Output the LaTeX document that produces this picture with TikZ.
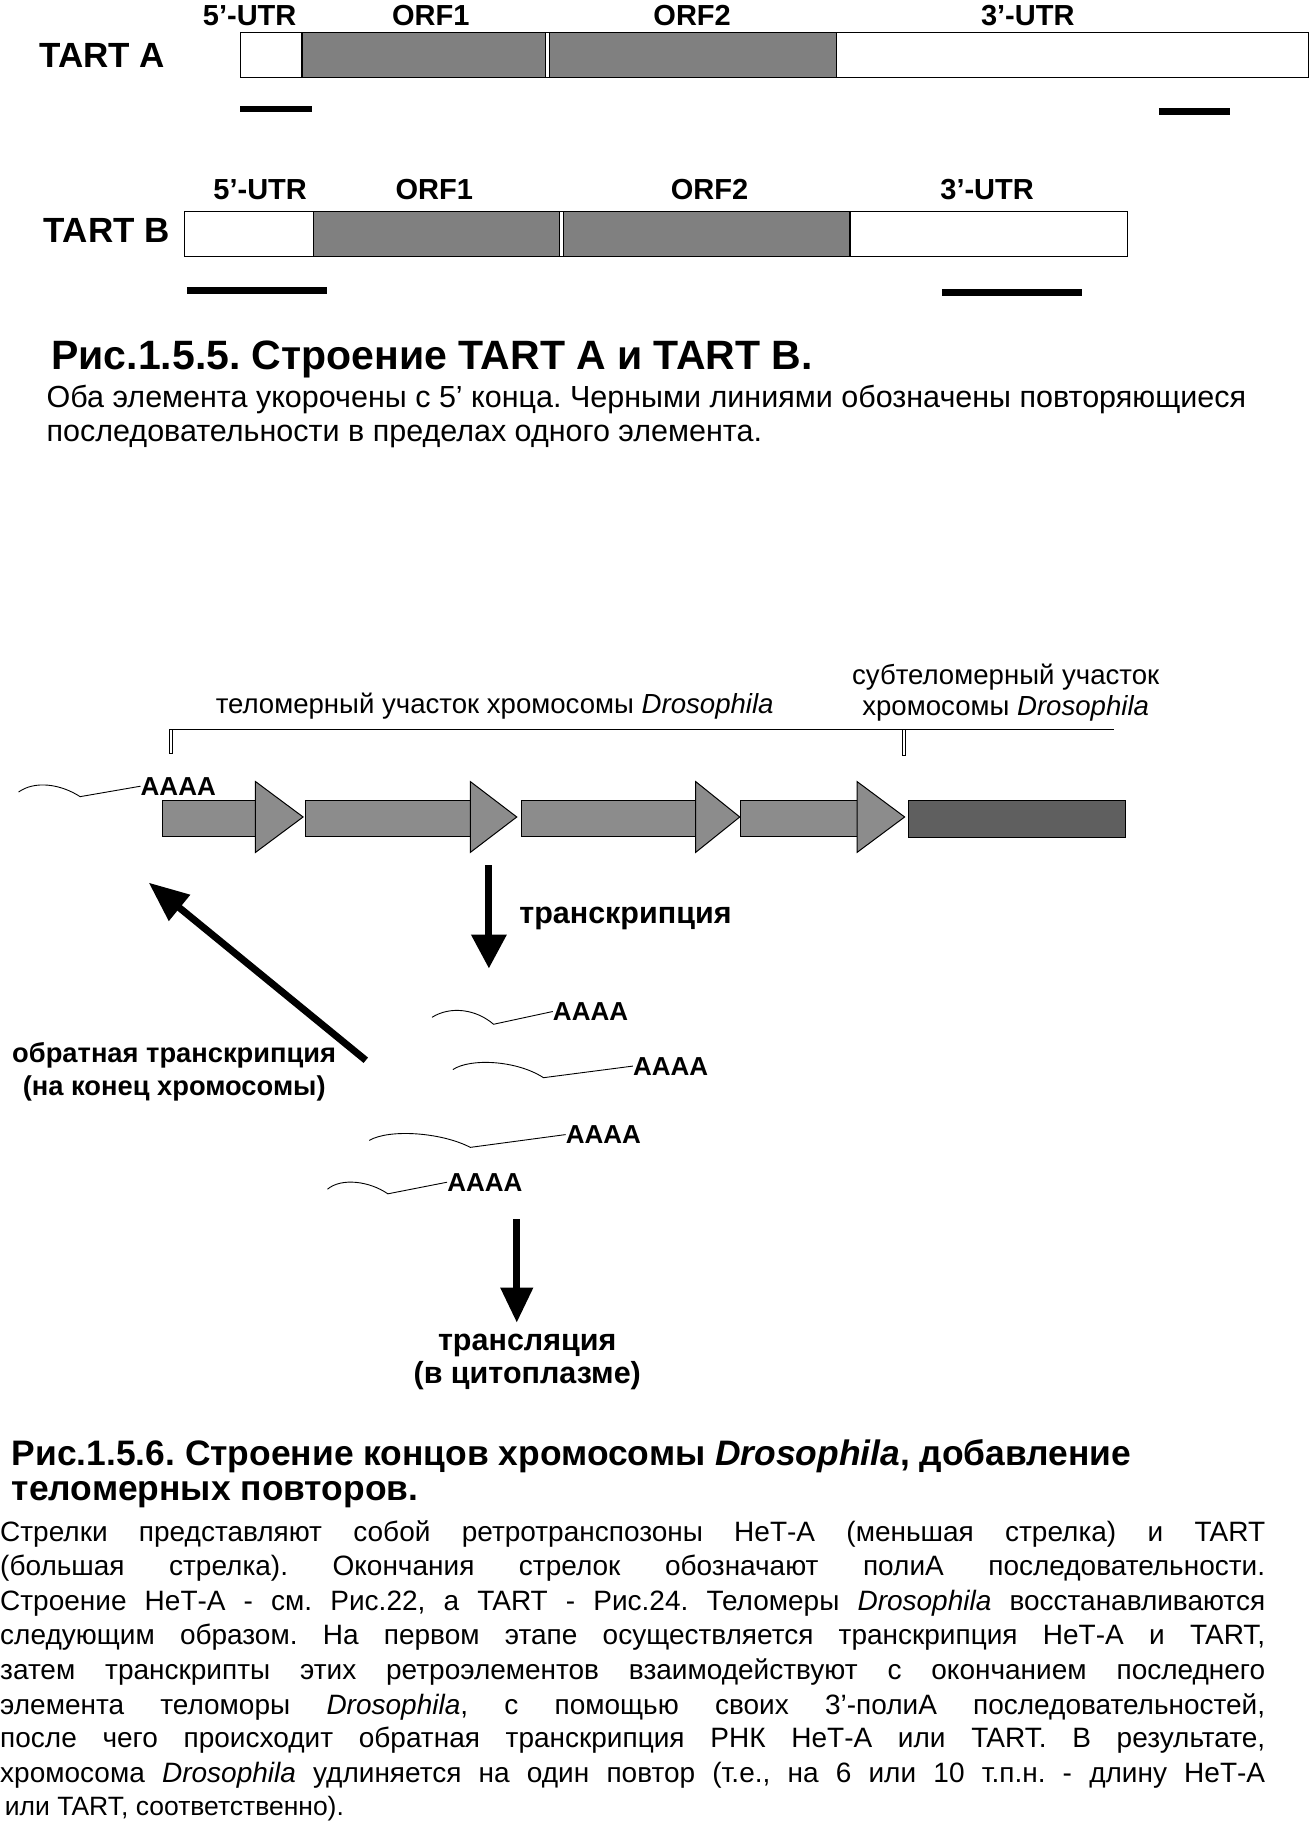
\documentclass[tikz,border=0pt]{standalone}
\usepackage{fontspec}
\setmainfont{Liberation Sans}
\usetikzlibrary{arrows.meta}
\frenchspacing

\definecolor{orfgray}{RGB}{128,128,128}
\definecolor{rptgray}{RGB}{140,140,140}
\definecolor{subgray}{RGB}{95,95,95}

\newcommand{\fsz}[1]{\fontsize{#1}{#1}\selectfont}
\newcommand{\dros}{\textit{Drosophila}}

\tikzset{
  lbl/.style={font=\bfseries\fsz{29}, inner sep=0pt, anchor=base},
  tartname/.style={font=\bfseries\fsz{35}, inner sep=0pt, anchor=base},
  titulo/.style={font=\bfseries\fsz{41}, inner sep=0pt, anchor=base west},
  legenda/.style={font=\fsz{30.5}, inner sep=0pt, anchor=base west},
  regiao/.style={font=\fsz{27.6}, inner sep=0pt, anchor=base},
  passo/.style={font=\bfseries\fsz{30.5}, inner sep=0pt, anchor=base},
  polya/.style={font=\bfseries\fsz{26}, inner sep=0pt, anchor=west},
  texto/.style={font=\fsz{28}, inner sep=0pt, anchor=base west},
  rna/.style={black, line width=0.9pt},
  bigarrow/.style={line width=7pt, -{Triangle[length=34pt, width=34pt]}},
  rpt/.style={fill=rptgray, draw=black, line width=1pt},
}

\begin{document}
\begin{tikzpicture}[x=1.1613pt, y=-1.1613pt]
\useasboundingbox (0,0) rectangle (1128.04,1569.8);

% Elemento TART A
\draw[line width=1.2pt] (207,28) rectangle (1127,67);
\filldraw[fill=orfgray, line width=1.2pt] (260,28) rectangle (470,67);
\filldraw[fill=orfgray, line width=1.2pt] (473,28) rectangle (720,67);
\node[tartname] (tartA) at (88,58) {TART A};
\node[lbl] (utr5A) at (215,22) {5’-UTR};
\node[lbl] (orf1A) at (371,22) {ORF1};
\node[lbl] (orf2A) at (596,22) {ORF2};
\node[lbl] (utr3A) at (885,22) {3’-UTR};

% repeticoes em TART A
\draw[line width=6.5pt] (207,94) -- (269,94);
\draw[line width=6.5pt] (998,96) -- (1059,96);

% Elemento TART B
\draw[line width=1.2pt] (159,182) rectangle (971,221);
\filldraw[fill=orfgray, line width=1.2pt] (270,182) rectangle (482,221);
\filldraw[fill=orfgray, line width=1.2pt] (485,182) rectangle (732,221);
\node[tartname] (tartB) at (92,209) {TART B};
\node[lbl] (utr5B) at (224,172) {5’-UTR};
\node[lbl] (orf1B) at (374,172) {ORF1};
\node[lbl] (orf2B) at (611,172) {ORF2};
\node[lbl] (utr3B) at (850,172) {3’-UTR};

% repeticoes em TART B
\draw[line width=6.5pt] (161,250) -- (282,250);
\draw[line width=6.5pt] (811,252) -- (932,252);

% Legenda da figura 1.5.5
\node[titulo] (tit1) at (44,318) {Рис.1.5.5. Строение TART A и TART B.};
\node[legenda] (leg1) at (40,351) {Оба элемента укорочены с 5’ конца. Черными линиями обозначены повторяющиеся};
\node[legenda] (leg2) at (40,380) {последовательности в пределах одного элемента.};

% Regioes da ponta do cromossomo
\node[regiao] (telo) at (426,614) {теломерный участок хромосомы \dros};
\node[regiao] (subt1) at (866,589) {субтеломерный участок};
\node[regiao] (subt2) at (866,616) {хромосомы \dros};
\draw[line width=1pt] (147,628) -- (959,628);
\draw[line width=0.7pt] (146,628) rectangle (148.5,649);
\draw[line width=0.7pt] (777,628) rectangle (779.5,650);

% Repeticoes HeT-A / TART (setas cinza)
\foreach \a/\b/\c in {140/220/261, 263/405/445, 449/599/637, 638/738/779} {
  \filldraw[rpt] (\a,689) rectangle (\b+2,720);
  \filldraw[rpt] (\b,673) -- (\c,703.5) -- (\b,734) -- cycle;
}

% Regiao subtelomerica
\filldraw[fill=subgray, draw=black, line width=1pt] (782,689) rectangle (969,721);

% Transcrito ligado ao fim do cromossomo
\draw[rna] (16,682) .. controls (30,672) and (52,675) .. (69,686) -- (121,677) coordinate (endT);
\node[polya] (polyT) at (endT) {AAAA};

% Transcricao
\coordinate (trA) at (421,745);
\coordinate (trB) at (421,834);
\draw[bigarrow] (trA) -- (trB);
\node[passo, anchor=base west] (transc) at (447,795) {транскрипция};

% Transcritos de RNA
\draw[rna] (372,876) .. controls (388,866) and (410,869) .. (425,882) -- (476,871) coordinate (end1);
\node[polya] (poly1) at (end1) {AAAA};
\draw[rna] (390,921) .. controls (405,911) and (445,913) .. (468,928) -- (545,918) coordinate (end2);
\node[polya] (poly2) at (end2) {AAAA};
\draw[rna] (318,982) .. controls (335,972) and (380,975) .. (405,988) -- (487,977) coordinate (end3);
\node[polya] (poly3) at (end3) {AAAA};
\draw[rna] (282,1024) .. controls (294,1014) and (318,1017) .. (334,1028) -- (385,1018) coordinate (end4);
\node[polya] (poly4) at (end4) {AAAA};

% Transcricao reversa
\coordinate (rtA) at (315,913);
\coordinate (rtB) at (128,760);
\draw[line width=7pt, -{Triangle[length=40pt, width=32pt]}] (rtA) -- (rtB);
\node[passo, font=\bfseries\fsz{27.3}] (rev1) at (150,915) {обратная транскрипция};
\node[passo, font=\bfseries\fsz{27.3}] (rev2) at (150,943) {(на конец хромосомы)};

% Traducao
\coordinate (tlA) at (445,1050);
\coordinate (tlB) at (445,1139);
\draw[line width=7pt, -{Triangle[length=35pt, width=31pt]}] (tlA) -- (tlB);
\node[passo] (trad1) at (454,1163) {трансляция};
\node[passo] (trad2) at (454,1191) {(в цитоплазме)};

% Legenda da figura 1.5.6
\node[titulo, font=\bfseries\fsz{35.4}] (tit2a) at (10,1262) {Рис.1.5.6. Строение концов хромосомы \dros, добавление};
\node[titulo, font=\bfseries\fsz{35.4}] (tit2b) at (10,1292) {теломерных повторов.};

\node[texto] (p1) at (0,1327) {\makebox[1265pt][s]{Стрелки представляют собой ретротранспозоны НеТ-А (меньшая стрелка) и TART}};
\node[texto] (p2) at (0,1357) {\makebox[1265pt][s]{(большая стрелка). Окончания стрелок обозначают полиА последовательности.}};
\node[texto] (p3) at (0,1387) {\makebox[1265pt][s]{Строение НеТ-А - см. Рис.22, а TART - Рис.24. Теломеры \dros{} восстанавливаются}};
\node[texto] (p4) at (0,1416) {\makebox[1265pt][s]{следующим образом. На первом этапе осуществляется транскрипция НеТ-А и TART,}};
\node[texto] (p5) at (0,1446) {\makebox[1265pt][s]{затем транскрипты этих ретроэлементов взаимодействуют с окончанием последнего}};
\node[texto] (p6) at (0,1476) {\makebox[1265pt][s]{элемента теломоры \dros, с помощью своих 3’-полиА последовательностей,}};
\node[texto] (p7) at (0,1505) {\makebox[1265pt][s]{после чего происходит обратная транскрипция РНК НеТ-А или TART. В результате,}};
\node[texto] (p8) at (0,1535) {\makebox[1265pt][s]{хромосома \dros{} удлиняется на один повтор (т.е., на 6 или 10 т.п.н. - длину НеТ-А}};
\node[texto, font=\fsz{26.5}] (p9) at (4,1563) {или TART, соответственно).};

\end{tikzpicture}
\end{document}
